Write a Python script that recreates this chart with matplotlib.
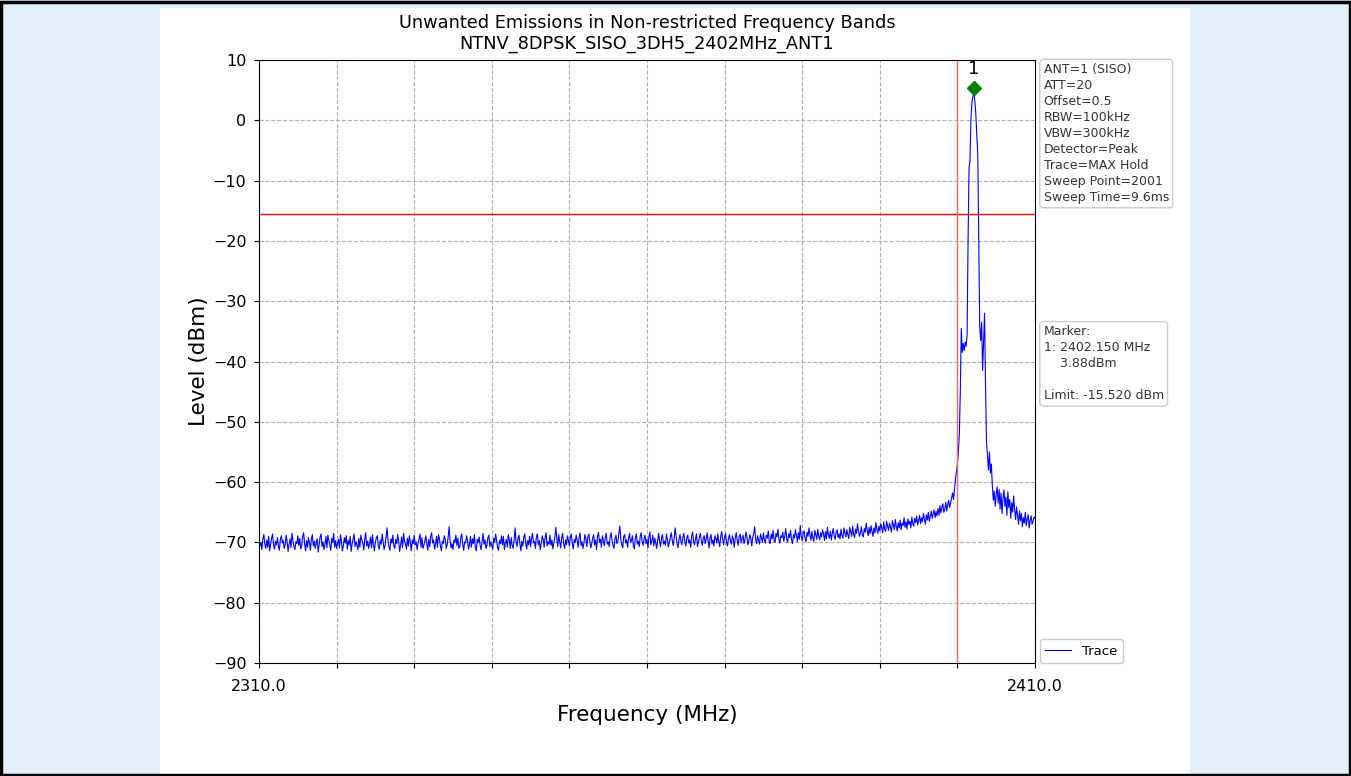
import numpy as np
import matplotlib
matplotlib.use("Agg")
import matplotlib.pyplot as plt
from matplotlib.patches import Rectangle

# Sweep: 2310 - 2410 MHz, every 0.125 MHz (20 values per row = 2.5 MHz)
f_start = 2310.0
f_stop = 2410.0

level = [
    # 2310.0
    -69.1, -70.6, -70.0, -71.2, -69.4, -68.7, -70.3, -71.0, -69.6, -70.8, -69.0, -71.4, -70.2, -69.3, -68.6, -70.5, -71.1, -69.8, -70.4, -69.2,
    -70.7, -71.3, -69.5, -68.9, -70.1, -69.7, -71.0, -70.4, -68.8, -69.9, -71.5, -70.3, -69.4, -70.9, -68.5, -69.6, -70.7, -71.2, -69.9, -70.2,
    # 2315.0
    -68.9, -70.5, -69.3, -71.1, -70.6, -69.0, -68.4, -70.2, -71.4, -69.7, -70.8, -69.2, -70.0, -71.3, -69.5, -68.7, -70.6, -69.8, -71.0, -70.1,
    -69.4, -71.6, -70.3, -69.1, -68.6, -70.7, -69.9, -71.2, -70.4, -69.0, -70.9, -68.8, -69.6, -70.5, -71.3, -69.3, -70.0, -68.5, -70.8, -69.7,
    # 2320.0
    -71.0, -70.2, -69.5, -70.9, -68.7, -69.8, -71.4, -70.6, -69.2, -70.1, -68.9, -71.1, -69.7, -70.4, -69.0, -71.5, -70.3, -69.4, -68.6, -70.7,
    -69.9, -70.5, -71.2, -69.3, -70.8, -68.8, -69.6, -70.1, -71.3, -69.5, -68.4, -70.6, -69.8, -71.0, -70.2, -69.1, -70.9, -68.7, -70.4, -71.4,
    # 2325.0
    -70.0, -69.2, -68.9, -70.7, -71.1, -69.6, -70.3, -68.6, -69.9, -71.2, -70.5, -69.0, -67.6, -69.7, -70.8, -71.3, -69.4, -70.1, -68.8, -70.6,
    -71.0, -69.5, -70.2, -68.7, -69.8, -71.5, -70.4, -69.1, -70.9, -68.5, -69.7, -70.3, -71.1, -69.3, -70.6, -68.9, -70.0, -71.4, -69.6, -70.2,
    # 2330.0
    -68.8, -70.4, -69.9, -71.2, -70.1, -69.4, -68.6, -70.8, -69.2, -71.0, -70.5, -69.7, -68.9, -70.3, -71.3, -69.5, -70.7, -69.0, -68.4, -70.1,
    -69.6, -71.1, -70.3, -69.0, -70.8, -68.7, -69.4, -70.6, -71.4, -69.8, -70.2, -68.9, -69.5, -71.0, -70.4, -69.1, -67.4, -69.7, -70.9, -70.2,
    # 2335.0
    -71.2, -69.6, -70.0, -68.8, -70.5, -69.3, -71.0, -70.7, -69.2, -68.6, -70.3, -71.3, -69.9, -70.1, -68.9, -69.7, -71.1, -70.4, -69.0, -70.8,
    -69.4, -70.2, -68.7, -70.9, -71.4, -69.5, -70.0, -69.1, -70.6, -71.2, -69.8, -68.5, -70.3, -69.6, -71.0, -70.5, -69.2, -68.8, -70.7, -69.9,
    # 2340.0
    -70.6, -71.1, -69.3, -70.0, -68.6, -69.8, -70.9, -71.3, -69.7, -70.2, -68.9, -70.4, -69.0, -71.2, -70.1, -69.5, -70.8, -68.7, -69.6, -71.0,
    -69.2, -70.5, -71.0, -69.6, -67.6, -69.9, -70.7, -69.3, -68.8, -70.3, -71.4, -69.8, -70.6, -69.1, -68.6, -70.2, -71.1, -69.7, -70.4, -69.0,
    # 2345.0
    -70.7, -69.3, -68.5, -70.1, -69.8, -71.0, -69.0, -68.6, -70.4, -69.7, -71.2, -70.2, -68.9, -69.5, -70.8, -69.1, -68.4, -70.6, -69.9, -70.3,
    -68.8, -70.5, -69.6, -71.1, -70.0, -69.2, -67.5, -69.4, -70.7, -68.7, -69.9, -70.9, -69.3, -68.5, -70.2, -71.0, -69.6, -70.4, -68.9, -69.7,
    # 2350.0
    -70.6, -69.0, -68.6, -70.3, -71.1, -69.5, -70.0, -68.8, -69.7, -70.8, -69.2, -68.4, -70.5, -69.9, -71.0, -70.1, -68.7, -69.4, -70.7, -69.1,
    -68.6, -69.8, -70.9, -70.2, -69.3, -68.7, -70.4, -69.6, -71.2, -69.0, -68.3, -70.0, -69.5, -70.8, -68.9, -69.7, -70.6, -69.2, -68.5, -70.3,
    # 2355.0
    -69.9, -70.7, -69.1, -68.4, -69.6, -70.5, -71.0, -69.4, -68.8, -70.2, -69.8, -68.6, -67.3, -69.5, -70.4, -70.9, -69.0, -68.7, -70.1, -69.6,
    -70.8, -69.3, -68.5, -70.0, -69.7, -68.9, -70.6, -71.1, -69.2, -68.6, -70.3, -69.8, -70.7, -69.0, -68.4, -69.9, -70.5, -69.4, -68.8, -70.2,
    # 2360.0
    -69.5, -70.9, -69.0, -68.3, -70.4, -69.7, -68.8, -70.6, -69.3, -70.1, -71.0, -69.6, -68.5, -69.9, -70.7, -69.2, -68.7, -70.3, -69.8, -70.5,
    -68.6, -69.4, -70.8, -70.0, -69.1, -68.4, -69.7, -70.5, -69.3, -67.6, -69.0, -70.2, -70.9, -69.5, -68.7, -69.8, -70.4, -69.1, -68.5, -70.0,
    # 2365.0
    -70.6, -69.2, -68.8, -70.1, -69.6, -70.8, -69.0, -68.3, -69.9, -70.4, -69.4, -68.6, -70.7, -70.0, -69.1, -68.5, -69.7, -70.5, -69.3, -68.9,
    -70.2, -69.5, -68.4, -69.8, -70.9, -69.2, -68.7, -70.3, -69.6, -70.6, -68.9, -69.4, -70.1, -68.6, -69.9, -70.7, -69.0, -68.2, -69.5, -70.4,
    # 2370.0
    -69.1, -68.5, -70.0, -70.6, -69.3, -68.7, -69.8, -70.3, -68.9, -69.5, -70.8, -69.2, -68.4, -69.7, -70.5, -69.0, -68.6, -70.1, -69.4, -68.8,
    -70.2, -69.6, -68.3, -69.0, -70.4, -69.8, -68.7, -69.3, -70.6, -69.1, -68.5, -67.4, -69.5, -70.2, -68.9, -69.7, -70.3, -68.6, -69.2, -70.0,
    # 2375.0
    -68.4, -69.6, -70.1, -68.8, -69.3, -68.1, -69.9, -70.2, -68.6, -69.4, -68.0, -69.7, -70.0, -68.5, -69.1, -67.8, -69.5, -70.1, -68.9, -69.2,
    -68.3, -69.8, -69.0, -67.7, -69.4, -70.0, -68.6, -69.2, -68.0, -69.6, -70.2, -68.7, -69.3, -67.9, -68.8, -69.9, -68.4, -69.5, -67.2, -69.0,
    # 2380.0
    -69.7, -68.5, -68.1, -69.4, -69.9, -68.3, -69.0, -67.6, -68.8, -69.6, -68.2, -69.3, -69.8, -68.0, -68.7, -69.5, -67.8, -68.9, -69.6, -68.4,
    -69.1, -67.9, -68.6, -69.7, -68.2, -69.4, -67.5, -68.8, -69.3, -68.1, -69.6, -68.5, -67.7, -69.0, -69.5, -68.3, -67.9, -69.2, -68.6, -69.4,
    # 2385.0
    -67.8, -68.9, -69.3, -67.6, -68.4, -69.1, -67.9, -68.7, -69.4, -67.5, -68.2, -69.0, -67.3, -68.6, -69.2, -67.8, -68.5, -66.9, -68.1, -69.0,
    -68.4, -67.4, -68.8, -69.1, -67.7, -68.3, -66.8, -68.0, -68.9, -67.5, -68.6, -67.2, -68.2, -69.0, -67.6, -68.4, -66.7, -67.9, -68.5, -67.3,
    # 2390.0
    -68.1, -66.9, -67.6, -68.4, -66.6, -67.8, -68.2, -66.5, -67.3, -68.0, -66.8, -67.5, -68.3, -66.4, -67.1, -67.9, -66.2, -67.4, -68.1, -66.7,
    -67.6, -66.3, -67.9, -66.8, -67.2, -65.9, -67.5, -66.6, -67.8, -66.1, -67.0, -66.5, -67.6, -65.8, -66.9, -67.3, -66.0, -66.7, -65.6, -67.1,
    # 2395.0
    -66.4, -65.5, -66.9, -65.9, -66.6, -65.2, -66.1, -67.0, -65.4, -66.3, -65.0, -66.5, -65.7, -64.8, -66.0, -65.3, -64.6, -65.9, -64.9, -65.6,
    -64.4, -65.5, -63.9, -65.1, -64.2, -63.6, -65.0, -64.5, -63.3, -64.8, -63.8, -63.0, -64.2, -63.5, -62.6, -61.8, -62.9, -61.2, -59.5, -58.2,
    # 2400.0
    -57.0, -55.0, -52.0, -45.0, -34.5, -38.5, -37.0, -38.2, -36.8, -37.5, -35.5, -20.0, -8.0, -6.5, 0.5, 3.0, 4.0, 4.5, 3.2, 1.0,
    -2.5, -5.5, -20.0, -34.0, -36.5, -33.5, -41.5, -37.0, -32.0, -44.0, -53.5, -55.5, -58.0, -55.0, -58.5, -57.0, -60.5, -63.0, -61.5, -64.0,
    # 2405.0
    -62.0, -60.8, -63.5, -61.2, -64.5, -61.8, -65.2, -62.7, -61.3, -64.0, -62.5, -65.5, -61.6, -64.2, -62.9, -66.0, -63.4, -65.0, -62.3, -64.6,
    -66.2, -64.1, -65.6, -67.0, -64.8, -66.4, -65.2, -67.4, -65.9, -66.8, -65.0, -67.2, -66.1, -65.4, -67.6, -66.3, -65.6, -67.0, -66.5, -65.8,
    # 2410.0
    -66.0,
]
freq = np.linspace(f_start, f_stop, len(level))

limit = -15.52
fc_line = 2400.0
marker_freq = 2402.15
marker_level = 3.88
marker_plot = 5.4

info_lines = ["ANT=1 (SISO)", "ATT=20", "Offset=0.5", "RBW=100kHz", "VBW=300kHz",
              "Detector=Peak", "Trace=MAX Hold", "Sweep Point=2001", "Sweep Time=9.6ms"]

fig = plt.figure(figsize=(13.51, 7.76), dpi=100, facecolor="#e2eff8")
# white page in the middle, black frame round the picture
fig.patches.append(Rectangle((160 / 1351, 0), 1030 / 1351, 1 - 8 / 776,
                             transform=fig.transFigure, facecolor="white",
                             edgecolor="none", zorder=-10))
fig.patches.append(Rectangle((0.001, 0.001), 0.998, 0.996, transform=fig.transFigure,
                             facecolor="none", edgecolor="black", lw=2.5, zorder=5))

ax = fig.add_axes([259 / 1351, 1 - 663 / 776, 776 / 1351, 603 / 776])
ax.plot(freq, level, color="blue", lw=0.8, label="Trace")
ax.axhline(limit, color="red", lw=1)
ax.axvline(fc_line, color="#e86a6a", lw=1)
ax.plot(marker_freq, marker_plot, "D", color="green", ms=7)
ax.text(marker_freq, marker_plot + 1.6, "1", ha="center", va="bottom", fontsize=13)

ax.set_xlim(f_start, f_stop)
ax.set_ylim(-90, 10)
xt = np.arange(2310, 2411, 10)
ax.set_xticks(xt)
ax.set_xticklabels(["2310.0"] + [""] * 9 + ["2410.0"])
ax.set_yticks(np.arange(-90, 11, 10))
ax.tick_params(labelsize=11.5)
ax.tick_params(axis="x", pad=8)
ax.tick_params(axis="y", pad=5.5)
ax.grid(True, ls="--", color="#b0b0b0", lw=0.8)
ax.set_xlabel("Frequency (MHz)", fontsize=15.5, labelpad=8)
ax.set_ylabel("Level (dBm)", fontsize=15.5, labelpad=3)
ax.set_title("Unwanted Emissions in Non-restricted Frequency Bands\nNTNV_8DPSK_SISO_3DH5_2402MHz_ANT1",
             fontsize=12.8, pad=8)

box = dict(boxstyle="round,pad=0.3", facecolor="white", edgecolor="#cccccc")
ax.text(1.011, 0.995, "\n".join(info_lines), transform=ax.transAxes, va="top", ha="left",
        fontsize=9, color="#333333", bbox=box, linespacing=1.3)
ax.text(1.011, 0.560, "Marker:\n1: %.3f MHz\n    %.2fdBm\n\nLimit: %.3f dBm" % (marker_freq, marker_level, limit),
        transform=ax.transAxes, va="top", ha="left", fontsize=9, color="#333333",
        bbox=box, linespacing=1.3)
ax.legend(loc="lower left", bbox_to_anchor=(1.006, 0.0), borderaxespad=0, fontsize=9.5,
          framealpha=1, edgecolor="#cccccc")

fig.savefig("out.png", dpi=100, facecolor=fig.get_facecolor())
